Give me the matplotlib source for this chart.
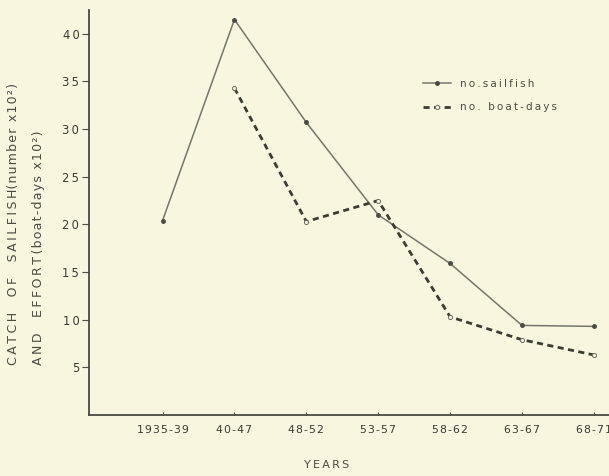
import matplotlib.pyplot as plt
import numpy as np

periods = ['1935-39', '40-47', '48-52', '53-57', '58-62', '63-67', '68-71']
sailfish = [20.4, 41.5, 30.7, 21.0, 15.9, 9.4, 9.3]
boat_days = [None, 34.3, 20.3, 22.5, 10.3, 7.9, 6.3]
yticks = [5, 10, 15, 20, 25, 30, 35, 40]

bg = '#f8f6df'
ink = '#4a4a44'
TS = '\u2009'  # thin space
HS = '\u200a'  # hair space


def spaced(s, sp=TS):
    return sp.join(s)


fig = plt.figure(figsize=(6.09, 4.76), dpi=100, facecolor=bg)
ax = fig.add_axes([89 / 609, 61 / 476, 520 / 609, 405 / 476], facecolor=bg)

x = np.arange(len(periods))
bx = [i for i, v in zip(x, boat_days) if v is not None]
bv = [v for v in boat_days if v is not None]

ax.plot(x, sailfish, '-', color='#75756c', lw=1.1, marker='o', ms=2.5,
        mfc=ink, mec=ink, label=spaced('no.sailfish'))
ax.plot(bx, bv, '--', color='#3c3c36', lw=2.0, dashes=(2.2, 1.6), marker='o',
        ms=3, mfc=bg, mec='#6e6e66', mew=0.7, label=spaced('no. boat-days'))

ax.set_xlim(-1.023, 6.21)
ax.set_ylim(0, 42.5)
ax.set_xticks(x)
ax.set_xticklabels([spaced(p, HS) for p in periods])
ax.set_yticks(yticks)
ax.set_yticklabels([spaced(str(v)) for v in yticks])
ax.spines['top'].set_visible(False)
ax.spines['right'].set_visible(False)
for s in ['left', 'bottom']:
    ax.spines[s].set_color(ink)
    ax.spines[s].set_linewidth(1.3)
ax.tick_params(axis='both', colors=ink, labelcolor='#3a3a36')
ax.tick_params(axis='x', direction='in', length=2, width=0.8, pad=7, labelsize=7.8)
ax.tick_params(axis='y', direction='out', length=5, width=0.8, pad=2, labelsize=8.3)

fig.text(327 / 609, 1 - 465 / 476, spaced('YEARS'), ha='center', va='center',
         fontsize=8, color=ink)
fig.text(14 / 609, 1 - 365 / 476,
         spaced('CATCH  OF  SAILFISH') + spaced('(number x10²)', HS),
         rotation=90, ha='center', va='bottom', fontsize=9, color=ink)
fig.text(38.5 / 609, 1 - 365 / 476,
         spaced('AND  EFFORT') + TS + spaced('(boat-days x10²)', HS),
         rotation=90, ha='center', va='bottom', fontsize=9, color=ink)

leg = ax.legend(loc='upper left', bbox_to_anchor=(0.642, 0.83), frameon=False,
                fontsize=7.5, handlelength=2.7, labelspacing=1.3,
                handletextpad=0.85, borderaxespad=0, borderpad=0)
for t in leg.get_texts():
    t.set_color(ink)

fig.savefig('out.png', dpi=100, facecolor=bg)
